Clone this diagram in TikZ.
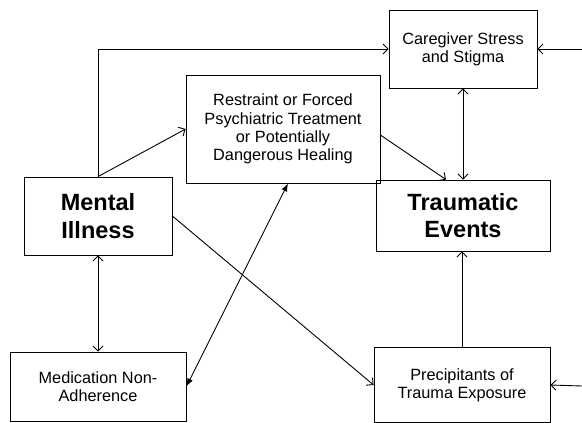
\documentclass[tikz,border=0pt]{standalone}
\usepackage{fontspec}
\setmainfont{Liberation Sans}
\usetikzlibrary{arrows.meta,calc}
\begin{document}
\begin{tikzpicture}[x=1pt,y=-1pt,
  box/.style={draw=black,line width=0.8pt,inner sep=0pt,align=center,
    font=\fontsize{16.3}{18.2}\selectfont},
  bigbox/.style={box,font=\fontsize{23.5}{27.5}\selectfont\bfseries},
  conn/.style={line width=0.9pt,-{Straight Barb[length=5pt,width=10pt,line width=0.9pt]}},
  dconn/.style={line width=0.9pt,{Straight Barb[length=5pt,width=10pt,line width=0.9pt]}-{Straight Barb[length=5pt,width=10pt,line width=0.9pt]}},
  fconn/.style={line width=0.9pt,{Latex[length=8pt,width=6pt]}-{Latex[length=8pt,width=6pt]}}]
\useasboundingbox (0,0) rectangle (582,423);
\node[box,minimum width=148pt,minimum height=78pt] (care) at (463,49) {Caregiver Stress\\and Stigma};
\node[box,minimum width=194pt,minimum height=108pt] (restr) at (283,129) {Restraint or Forced\\Psychiatric Treatment\\or Potentially\\Dangerous Healing};
\node[bigbox,minimum width=148pt,minimum height=78pt] (mental) at (98,216) {Mental\\Illness};
\node[bigbox,minimum width=174pt,minimum height=71pt] (trauma) at (463,215.5) {Traumatic\\Events};
\node[box,minimum width=176pt,minimum height=69pt] (med) at (98,386.5) {Medication Non-\\Adherence};
\node[box,minimum width=176pt,minimum height=75pt] (precip) at (462,385) {Precipitants of\\Trauma Exposure};
\coordinate (inA) at (582,49);
\coordinate (inB) at (582,386);
\draw[conn] (mental.north) |- (care.west);
\draw[conn] (mental.north) -- (restr.west);
\draw[conn] ([yshift=-6pt]restr.east) -- ([xshift=-17pt]trauma.north);
\draw[dconn] (care.south) -- (trauma.north);
\draw[conn] (precip.north) -- (precip.north |- trauma.south);
\draw[conn] (mental.east) -- (precip.west);
\draw[fconn] (med.east) -- ([xshift=5pt]restr.south);
\draw[dconn] (mental.south) -- (med.north);
\draw[conn] (inA) -- (care.east);
\draw[conn] (inB) -- (precip.east);
\end{tikzpicture}
\end{document}
